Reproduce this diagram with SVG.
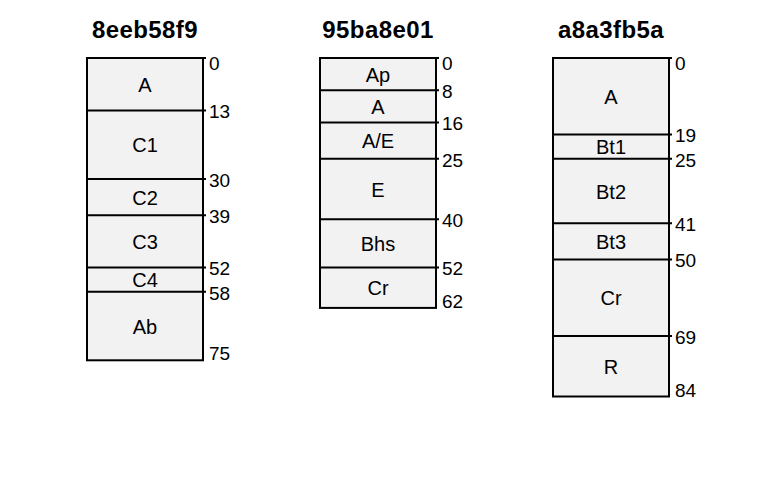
<svg xmlns="http://www.w3.org/2000/svg" width="768" height="480" viewBox="0 0 768 480">
<style>
.bg{fill:#ffffff}
.blk{fill:#f2f2f2;stroke:none}
.frame{fill:none;stroke:#000;stroke-width:2}
.div{stroke:#000;stroke-width:2}
.title{font-family:"Liberation Sans",Arial,sans-serif;font-weight:bold;font-size:24px;fill:#000;text-anchor:middle}
.lbl{font-family:"Liberation Sans",Arial,sans-serif;font-size:20px;fill:#000;text-anchor:middle}
.num{font-family:"Liberation Sans",Arial,sans-serif;font-size:19px;fill:#000;text-anchor:start}
</style>
<rect class="bg" x="0" y="0" width="768" height="480"/>

<!-- Column 1 -->
<g id="col-8eeb58f9">
<text class="title" x="145" y="38" letter-spacing="0.4">8eeb58f9</text>
<g id="c1-A"><rect class="blk" x="87" y="58" width="116" height="52.4"/><text class="lbl" x="145" y="91.7">A</text></g>
<g id="c1-C1"><rect class="blk" x="87" y="110.4" width="116" height="68.5"/><text class="lbl" x="145" y="152.2">C1</text></g>
<g id="c1-C2"><rect class="blk" x="87" y="178.9" width="116" height="36.3"/><text class="lbl" x="145" y="204.5">C2</text></g>
<g id="c1-C3"><rect class="blk" x="87" y="215.2" width="116" height="52.4"/><text class="lbl" x="145" y="248.9">C3</text></g>
<g id="c1-C4"><rect class="blk" x="87" y="267.6" width="116" height="24.1"/><text class="lbl" x="145" y="287.2">C4</text></g>
<g id="c1-Ab"><rect class="blk" x="87" y="291.7" width="116" height="68.6"/><text class="lbl" x="145" y="333.5">Ab</text></g>
<rect class="frame" x="87" y="58" width="116" height="302.3"/>
<line class="div" x1="87" y1="58" x2="206" y2="58"/>
<line class="div" x1="87" y1="110.4" x2="206" y2="110.4"/>
<line class="div" x1="87" y1="178.9" x2="206" y2="178.9"/>
<line class="div" x1="87" y1="215.2" x2="206" y2="215.2"/>
<line class="div" x1="87" y1="267.6" x2="206" y2="267.6"/>
<line class="div" x1="87" y1="291.7" x2="206" y2="291.7"/>
<text class="num" x="209" y="70">0</text>
<text class="num" x="209" y="118.2">13</text>
<text class="num" x="209" y="186.7">30</text>
<text class="num" x="209" y="223">39</text>
<text class="num" x="209" y="275.4">52</text>
<text class="num" x="209" y="299.5">58</text>
<text class="num" x="209" y="360">75</text>
</g>

<!-- Column 2 -->
<g id="col-95ba8e01">
<text class="title" x="378" y="38" letter-spacing="0.4">95ba8e01</text>
<g id="c2-Ap"><rect class="blk" x="320" y="58" width="116" height="32.2"/><text class="lbl" x="378" y="81.6">Ap</text></g>
<g id="c2-A"><rect class="blk" x="320" y="90.2" width="116" height="32.3"/><text class="lbl" x="378" y="113.9">A</text></g>
<g id="c2-AE"><rect class="blk" x="320" y="122.5" width="116" height="36.3"/><text class="lbl" x="378" y="148.2">A/E</text></g>
<g id="c2-E"><rect class="blk" x="320" y="158.8" width="116" height="60.4"/><text class="lbl" x="378" y="196.5">E</text></g>
<g id="c2-Bhs"><rect class="blk" x="320" y="219.2" width="116" height="48.4"/><text class="lbl" x="378" y="250.9">Bhs</text></g>
<g id="c2-Cr"><rect class="blk" x="320" y="267.6" width="116" height="40.3"/><text class="lbl" x="378" y="295.3">Cr</text></g>
<rect class="frame" x="320" y="58" width="116" height="249.9"/>
<line class="div" x1="320" y1="58" x2="439" y2="58"/>
<line class="div" x1="320" y1="90.2" x2="439" y2="90.2"/>
<line class="div" x1="320" y1="122.5" x2="439" y2="122.5"/>
<line class="div" x1="320" y1="158.8" x2="439" y2="158.8"/>
<line class="div" x1="320" y1="219.2" x2="439" y2="219.2"/>
<line class="div" x1="320" y1="267.6" x2="439" y2="267.6"/>
<text class="num" x="442" y="70">0</text>
<text class="num" x="442" y="98">8</text>
<text class="num" x="442" y="130.3">16</text>
<text class="num" x="442" y="166.6">25</text>
<text class="num" x="442" y="227">40</text>
<text class="num" x="442" y="275.4">52</text>
<text class="num" x="442" y="308">62</text>
</g>

<!-- Column 3 -->
<g id="col-a8a3fb5a">
<text class="title" x="611" y="38" letter-spacing="0.4">a8a3fb5a</text>
<g id="c3-A"><rect class="blk" x="553" y="58" width="116" height="76.6"/><text class="lbl" x="611" y="103.8">A</text></g>
<g id="c3-Bt1"><rect class="blk" x="553" y="134.6" width="116" height="24.2"/><text class="lbl" x="611" y="154.2">Bt1</text></g>
<g id="c3-Bt2"><rect class="blk" x="553" y="158.8" width="116" height="64.4"/><text class="lbl" x="611" y="198.5">Bt2</text></g>
<g id="c3-Bt3"><rect class="blk" x="553" y="223.2" width="116" height="36.3"/><text class="lbl" x="611" y="248.9">Bt3</text></g>
<g id="c3-Cr"><rect class="blk" x="553" y="259.5" width="116" height="76.6"/><text class="lbl" x="611" y="305.3">Cr</text></g>
<g id="c3-R"><rect class="blk" x="553" y="336.1" width="116" height="60.4"/><text class="lbl" x="611" y="373.8">R</text></g>
<rect class="frame" x="553" y="58" width="116" height="338.5"/>
<line class="div" x1="553" y1="58" x2="672" y2="58"/>
<line class="div" x1="553" y1="134.6" x2="672" y2="134.6"/>
<line class="div" x1="553" y1="158.8" x2="672" y2="158.8"/>
<line class="div" x1="553" y1="223.2" x2="672" y2="223.2"/>
<line class="div" x1="553" y1="259.5" x2="672" y2="259.5"/>
<line class="div" x1="553" y1="336.1" x2="672" y2="336.1"/>
<text class="num" x="675" y="70">0</text>
<text class="num" x="675" y="142.4">19</text>
<text class="num" x="675" y="166.6">25</text>
<text class="num" x="675" y="231">41</text>
<text class="num" x="675" y="267.3">50</text>
<text class="num" x="675" y="343.9">69</text>
<text class="num" x="675" y="397">84</text>
</g>
</svg>
